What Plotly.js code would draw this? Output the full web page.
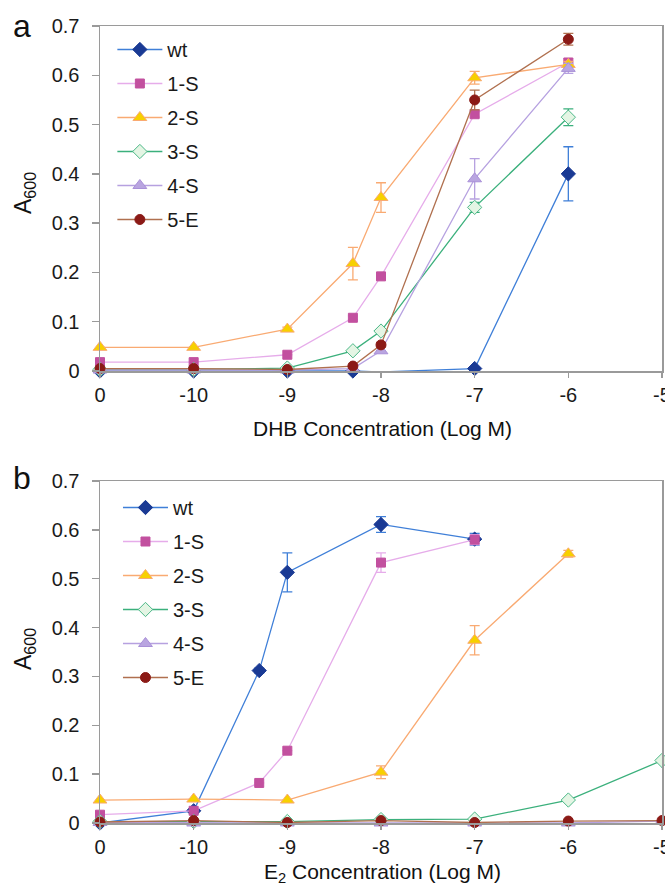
<!DOCTYPE html>
<html><head><meta charset="utf-8">
<script src="https://cdn.plot.ly/plotly-3.0.1.min.js"></script>
<style>body{margin:0;background:#fff}#chart{width:665px;height:891px}</style>
</head><body><div id="chart"></div>
<script>
// ---- data ----
var seriesNames = ["wt", "1-S", "2-S", "3-S", "4-S", "5-E"];
var xTickVals = [-11, -10, -9, -8, -7, -6, -5];
var xTickText = ["0", "-10", "-9", "-8", "-7", "-6", "-5"];

// Panel a (DHB)
var xA = [-11, -10, -9, -8.3, -8, -7, -6];
var aWt  = [0, 0, 0, 0, -0.002, 0.005, 0.400];
var aWtErr = [0, 0, 0, 0, 0, 0, 0.055];
var a1S  = [0.018, 0.018, 0.033, 0.108, 0.192, 0.521, 0.626];
var a1SErr = [0, 0, 0, 0.004, 0.006, 0.006, 0.008];
var a2S  = [0.048, 0.048, 0.085, 0.218, 0.352, 0.595, 0.622];
var a2SErr = [0, 0, 0.004, 0.033, 0.030, 0.013, 0.006];
var a3S  = [0.003, 0.003, 0.006, 0.041, 0.081, 0.332, 0.515];
var a3SErr = [0, 0, 0, 0.003, 0.004, 0.010, 0.017];
var a4S  = [0.002, 0.002, 0.002, 0.005, 0.041, 0.390, 0.614];
var a4SErr = [0, 0, 0, 0, 0, 0.041, 0.010];
var a5E  = [0.005, 0.005, 0.003, 0.010, 0.053, 0.550, 0.673];
var a5EErr = [0, 0, 0, 0, 0.004, 0.020, 0.012];

// Panel b (E2)
var xBwt = [-11, -10, -9.3, -9, -8, -7];
var bWt  = [0, 0.025, 0.312, 0.513, 0.611, 0.581];
var bWtErr = [0, 0, 0.005, 0.040, 0.016, 0.012];
var xB1S = [-11, -10, -9.3, -9, -8, -7];
var b1S  = [0.017, 0.025, 0.082, 0.148, 0.533, 0.580];
var b1SErr = [0, 0, 0, 0, 0.020, 0.010];
var xB2S = [-11, -10, -9, -8, -7, -6];
var b2S  = [0.047, 0.049, 0.047, 0.104, 0.374, 0.551];
var b2SErr = [0, 0, 0, 0.013, 0.030, 0.007];
var xB = [-11, -10, -9, -8, -7, -6, -5];
var b3S  = [0.003, 0.003, 0.003, 0.007, 0.008, 0.047, 0.128];
var b4S  = [0.001, 0, 0, 0, 0, 0, 0.004];
var b5E  = [0.002, 0.005, 0.001, 0.005, 0.001, 0.004, 0.005];

// ---- styles ----
var styles = [
  {line:'#3f7fd8', fill:'#1a3a94', edge:'#1a3a94', symbol:'diamond', size:11},
  {line:'#e6acea', fill:'#c2509f', edge:'#c2509f', symbol:'square', size:9},
  {line:'#f9aa72', fill:'#f7d000', edge:'#f9aa72', symbol:'triangle-up', size:12},
  {line:'#3bb07c', fill:'#e4f5e4', edge:'#4cb888', symbol:'diamond', size:11},
  {line:'#b6a1e0', fill:'#b9a5e0', edge:'#a990d8', symbol:'triangle-up', size:12},
  {line:'#b0704f', fill:'#8b1a16', edge:'#8b1a16', symbol:'circle', size:10}
];

function mk(i, x, y, err, xa, ya, lg) {
  var s = styles[i];
  return {
    type:'scatter', mode:'lines+markers', name: seriesNames[i],
    x:x, y:y, xaxis:xa, yaxis:ya, legend:lg, legendgroup: lg + i,
    cliponaxis:false,
    line:{color:s.line, width:1.3},
    marker:{symbol:s.symbol, size:s.size, color:s.fill, line:{color:s.edge, width:1}},
    error_y: err ? {type:'data', array:err, visible:true, color:s.line, thickness:1.3, width:5} : {visible:false}
  };
}

var data = [
  mk(0, xA, aWt, aWtErr, 'x', 'y', 'legend'),
  mk(1, xA, a1S, a1SErr, 'x', 'y', 'legend'),
  mk(2, xA, a2S, a2SErr, 'x', 'y', 'legend'),
  mk(3, xA, a3S, a3SErr, 'x', 'y', 'legend'),
  mk(4, xA, a4S, a4SErr, 'x', 'y', 'legend'),
  mk(5, xA, a5E, a5EErr, 'x', 'y', 'legend'),
  mk(0, xBwt, bWt, bWtErr, 'x2', 'y2', 'legend2'),
  mk(1, xB1S, b1S, b1SErr, 'x2', 'y2', 'legend2'),
  mk(2, xB2S, b2S, b2SErr, 'x2', 'y2', 'legend2'),
  mk(3, xB, b3S, null, 'x2', 'y2', 'legend2'),
  mk(4, xB, b4S, null, 'x2', 'y2', 'legend2'),
  mk(5, xB, b5E, null, 'x2', 'y2', 'legend2')
];

var font = 'Liberation Sans, Arial, sans-serif';
var axGrey = '#9a9a9a';
function xax(anchor) {
  return {anchor:anchor, domain:[0,1], range:[-11,-5], tickvals:xTickVals, ticktext:xTickText,
    showgrid:false, zeroline:false, showline:true, linecolor:axGrey, linewidth:1.5, mirror:true,
    ticks:'outside', ticklen:5, tickcolor:axGrey, tickwidth:1.3, ticklabeloverflow:'allow',
    tickfont:{family:font, size:20, color:'#1a1a1a'}};
}
function yax(anchor, dom) {
  return {anchor:anchor, domain:dom, range:[0,0.7], tickvals:[0,0.1,0.2,0.3,0.4,0.5,0.6,0.7],
    ticktext:["0","0.1","0.2","0.3","0.4","0.5","0.6","0.7"],
    showgrid:false, zeroline:false, showline:true, linecolor:axGrey, linewidth:1.5, mirror:true,
    ticks:'outside', ticklen:7, tickcolor:axGrey, tickwidth:1.3, ticklabelstandoff:8,
    ticklabeloverflow:'allow',
    tickfont:{family:font, size:20, color:'#1a1a1a'}};
}
function px(x){ return (x-100)/562; }
function py(y){ return (891-y)/891; }

var legendBase = {
  xref:'paper', yref:'paper', xanchor:'left', yanchor:'top',
  bgcolor:'rgba(0,0,0,0)', font:{family:font, size:20, color:'#1a1a1a'},
  tracegroupgap:5, itemwidth:45, traceorder:'grouped'
};

function ann(text, x, y, size, angle) {
  return {text:text, x:px(x), y:py(y), xref:'paper', yref:'paper', xanchor:'center', yanchor:'middle',
    showarrow:false, textangle:angle||0, font:{family:font, size:size, color:'#111'}};
}

var layout = {
  width:665, height:891,
  margin:{l:100, r:3, t:0, b:0},
  paper_bgcolor:'#fff', plot_bgcolor:'#fff',
  xaxis: xax('y'),
  yaxis: yax('x', [py(371), py(26)]),
  xaxis2: xax('y2'),
  yaxis2: yax('x2', [py(823), py(481)]),
  legend: Object.assign({}, legendBase, {x:0.022, y:py(30)}),
  legend2: Object.assign({}, legendBase, {x:0.032, y:py(488)}),
  annotations: [
    ann('a', 22, 26, 32),
    ann('b', 22, 478, 32),
    ann('A<sub>600</sub>', 24, 193, 23, -90),
    ann('A<sub>600</sub>', 24, 649, 23, -90),
    ann('DHB Concentration (Log M)', 382, 428, 21),
    ann('E<sub>2</sub> Concentration (Log M)', 382, 873, 21)
  ],
  showlegend:true
};

Plotly.newPlot('chart', data, layout, {staticPlot:true, displayModeBar:false});
</script></body></html>
